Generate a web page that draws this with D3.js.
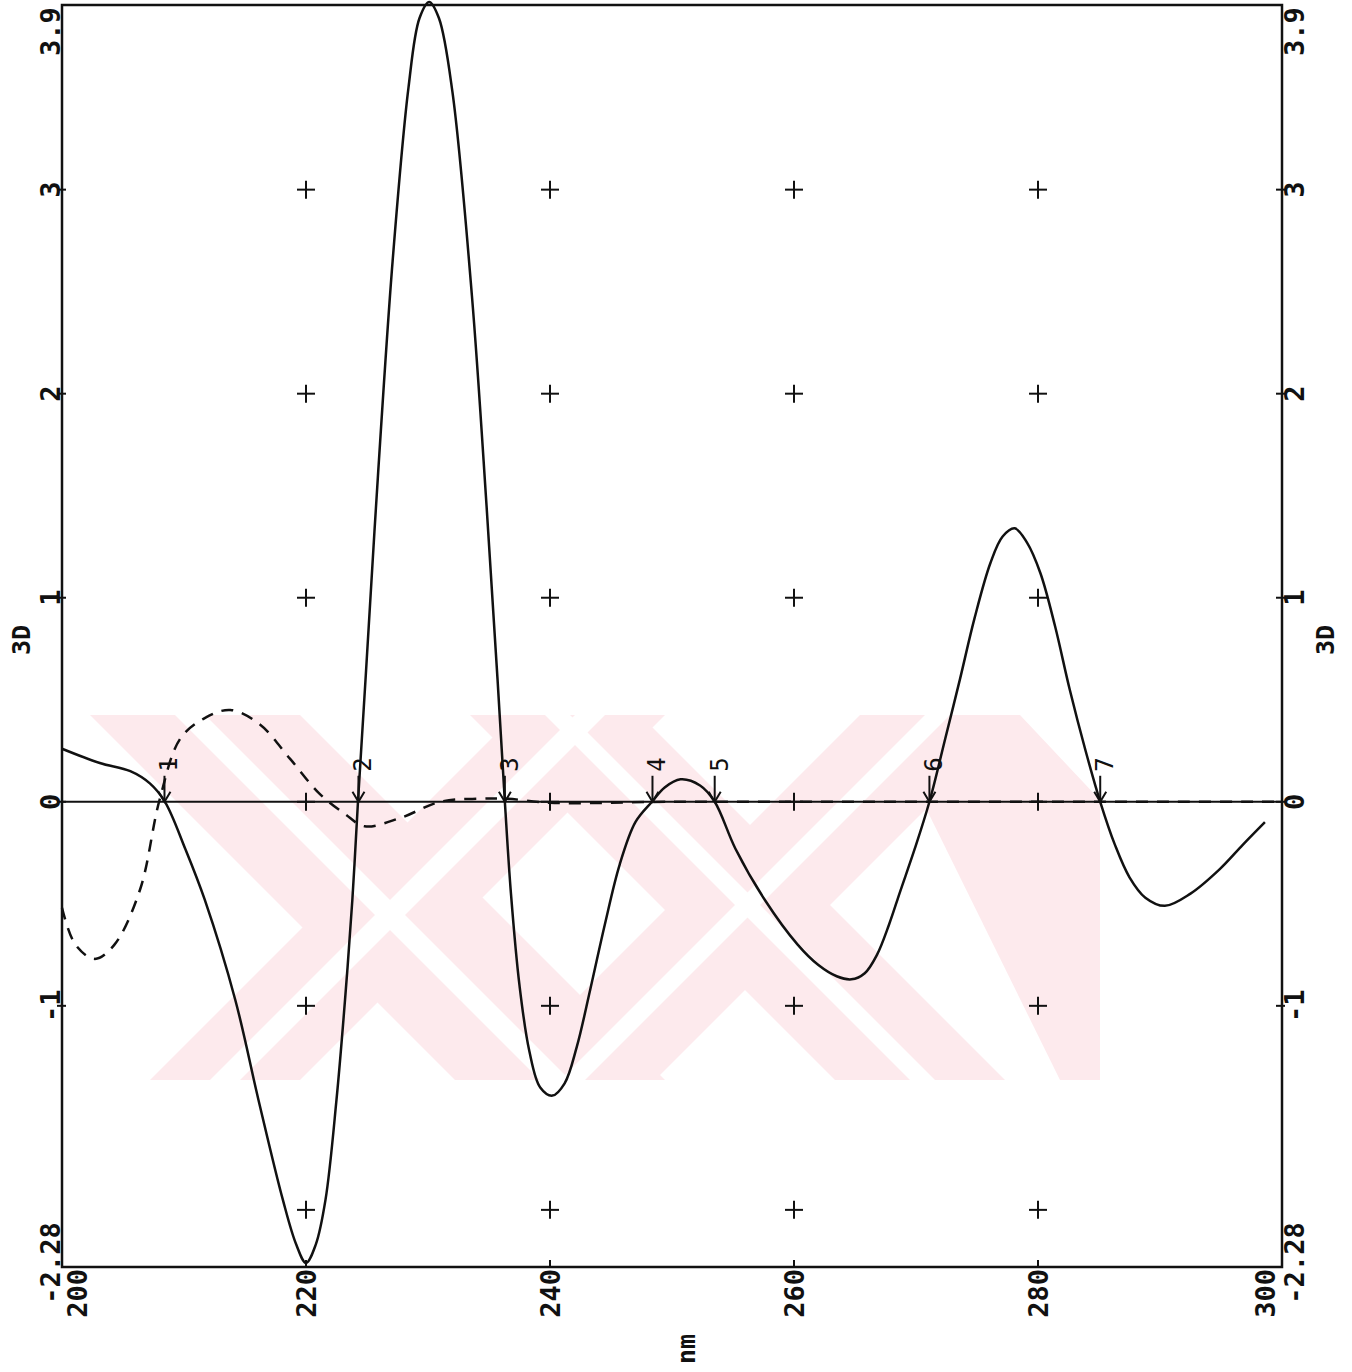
<!DOCTYPE html>
<html>
<head>
<meta charset="utf-8">
<script src="https://cdn.jsdelivr.net/npm/d3@7"></script>
<style>
  body { margin: 0; background: #fff; }
  text { font-family: "DejaVu Sans Mono", "Liberation Mono", monospace; fill: #111; }
</style>
</head>
<body>
<svg id="chart"></svg>
<script>
// spectrum (nm, 3D value)
const solidNm  = [200, 203.1, 205.6, 207.2, 208.44, 210.1, 211.7, 214.2, 216.1, 218.1, 219.2, 220, 220.8, 221.6, 222.5, 223.2, 223.8, 224.26, 224.9, 225.9, 227.1, 228.4, 229.3, 230.1, 230.9, 232, 233.6, 234.8, 235.7, 236.3, 236.8, 237.5, 238.3, 239.2, 240.2, 241.2, 242.2, 243.3, 244.5, 245.7, 247, 248.36, 249.4, 250.7, 252.3, 253.5, 255.2, 257.6, 260.3, 262, 263.5, 264.7, 265.8, 266.8, 267.8, 268.7, 269.9, 271.1, 272.4, 273.6, 274.8, 276.1, 277.1, 278.1, 279.1, 280.2, 281.4, 282.6, 283.9, 285.1, 286.3, 287.5, 288.8, 290.4, 292.5, 294.9, 296.8, 298.6];
const solidVal = [0.26, 0.19, 0.15, 0.09, 0, -0.23, -0.48, -0.97, -1.46, -1.95, -2.17, -2.26, -2.17, -1.95, -1.46, -0.97, -0.48, 0, 0.62, 1.6, 2.65, 3.5, 3.84, 3.92, 3.84, 3.48, 2.48, 1.45, 0.6, 0, -0.45, -0.9, -1.22, -1.4, -1.44, -1.38, -1.2, -0.92, -0.6, -0.31, -0.1, 0, 0.07, 0.11, 0.08, 0, -0.23, -0.48, -0.7, -0.8, -0.855, -0.87, -0.84, -0.75, -0.6, -0.44, -0.23, 0, 0.31, 0.6, 0.9, 1.17, 1.3, 1.34, 1.27, 1.12, 0.86, 0.55, 0.25, 0, -0.21, -0.37, -0.47, -0.51, -0.45, -0.33, -0.21, -0.1];

const dashNm  = [200, 201.1, 202.7, 204.3, 206.4, 208, 209.7, 211.7, 213.8, 216.2, 218.7, 221.1, 223.2, 224.8, 227.7, 231, 234.3, 236.5, 240, 250, 260, 270, 280, 290, 300];
const dashVal = [-0.52, -0.7, -0.77, -0.7, -0.43, 0.01, 0.31, 0.41, 0.45, 0.38, 0.21, 0.04, -0.06, -0.12, -0.08, 0, 0.015, 0.015, -0.005, 0, 0, 0, 0, 0, 0];

// numbered zero crossings
const markerNm     = [208.4, 224.3, 236.3, 248.4, 253.5, 271.1, 285.1];
const markerLabels = ["1", "2", "3", "4", "5", "6", "7"];

const xTicks = [200, 220, 240, 260, 280, 300];
const xTickLabels = ["200", "220", "240", "260", "280", "300"];
const yTicks = [-2.28, -1, 0, 1, 2, 3, 3.9];
const yTickLabels = ["-2.28", "-1", "0", "1", "2", "3", "3.9"];
const gridNm = [220, 240, 260, 280];
const gridVal = [-2, -1, 0, 1, 2, 3];

const W = 1352, H = 1372;
const svg = d3.select('#chart').attr('width', W).attr('height', H);

const x = d3.scaleLinear().domain([200, 300]).range([62, 1282]);
const y = d3.scaleLinear().domain([-2.28, 3.9]).range([1267, 6]);

// faint pink watermark behind everything
const wm = svg.append('g');
const bands = [
  [[90, 715], [300, 715], [665, 1080], [455, 1080]],
  [[515, 715], [665, 715], [300, 1080], [150, 1080]],
  [[470, 715], [640, 715], [1005, 1080], [835, 1080]],
  [[860, 715], [1020, 715], [655, 1080], [495, 1080]],
  [[880, 715], [1020, 715], [1100, 800], [1100, 1080], [1060, 1080]]
];
wm.selectAll('polygon').data(bands).enter().append('polygon')
  .attr('points', d => d.map(p => p.join(',')).join(' '))
  .style('fill', '#fdeaed');
// white inner stripes
const stripes = [
  [[175, 715], [205, 715], [570, 1080], [540, 1080]],
  [[575, 715], [605, 715], [240, 1080], [210, 1080]],
  [[545, 715], [570, 715], [935, 1080], [910, 1080]],
  [[925, 715], [950, 715], [585, 1080], [560, 1080]]
];
wm.selectAll('polygon.s').data(stripes).enter().append('polygon')
  .attr('class', 's')
  .attr('points', d => d.map(p => p.join(',')).join(' '))
  .style('fill', '#fff');

// grid crosses
const crosses = [];
gridNm.forEach(n => gridVal.forEach(v => crosses.push([n, v])));
const cross = svg.append('g').selectAll('g').data(crosses).enter().append('g')
  .attr('transform', d => `translate(${x(d[0])},${y(d[1])})`);
cross.append('line').attr('x1', -9).attr('x2', 9).attr('stroke', '#111').attr('stroke-width', 2);
cross.append('line').attr('y1', -9).attr('y2', 9).attr('stroke', '#111').attr('stroke-width', 2);

// zero line
svg.append('line')
  .attr('x1', x(200)).attr('x2', x(300)).attr('y1', y(0)).attr('y2', y(0))
  .attr('stroke', '#111').attr('stroke-width', 2);

const line = d3.line().x(d => x(d[0])).y(d => y(d[1])).curve(d3.curveCatmullRom.alpha(0.5));

svg.append('path')
  .datum(dashNm.map((n, i) => [n, dashVal[i]]))
  .attr('d', line)
  .attr('fill', 'none').attr('stroke', '#111').attr('stroke-width', 2.5)
  .attr('stroke-dasharray', '12 9');

svg.append('path')
  .datum(solidNm.map((n, i) => [n, solidVal[i]]))
  .attr('d', line)
  .attr('fill', 'none').attr('stroke', '#111').attr('stroke-width', 2.5);

// arrows at crossings
const mk = svg.append('g').selectAll('g').data(markerNm).enter().append('g')
  .attr('transform', d => `translate(${x(d)},${y(0)})`);
mk.append('line').attr('y1', -26).attr('y2', 0).attr('stroke', '#111').attr('stroke-width', 2);
mk.append('path').attr('d', 'M-6,-10 L0,0 L6,-10').attr('fill', 'none').attr('stroke', '#111').attr('stroke-width', 2);
mk.append('text')
  .attr('transform', 'translate(5,-30) rotate(-90)')
  .attr('dominant-baseline', 'central')
  .style('font-size', '24px')
  .text((d, i) => markerLabels[i]);

// frame
svg.append('rect')
  .attr('x', x(200)).attr('y', 5).attr('width', x(300) - x(200)).attr('height', y(-2.28) - 5)
  .attr('fill', 'none').attr('stroke', '#111').attr('stroke-width', 2.5);

// axis ticks
yTicks.slice(1, -1).forEach(v => {
  svg.append('line').attr('x1', x(200) - 5).attr('x2', x(200) + 4).attr('y1', y(v)).attr('y2', y(v)).attr('stroke', '#111').attr('stroke-width', 2);
  svg.append('line').attr('x1', x(300) - 6).attr('x2', x(300) + 3).attr('y1', y(v)).attr('y2', y(v)).attr('stroke', '#111').attr('stroke-width', 2);
});
xTicks.slice(1, -1).forEach(n => {
  svg.append('line').attr('x1', x(n)).attr('x2', x(n)).attr('y1', y(-2.28) - 7).attr('y2', y(-2.28)).attr('stroke', '#111').attr('stroke-width', 2);
});

// rotated labels
function rlabel(px, py, txt, anchor, size) {
  svg.append('text')
    .attr('transform', `translate(${px},${py}) rotate(-90)`)
    .attr('text-anchor', anchor)
    .attr('dominant-baseline', 'central')
    .style('font-size', (size || 27) + 'px')
    .style('font-weight', 'bold')
    .text(txt);
}

yTicks.forEach((v, i) => {
  let py = y(v), anchor = 'middle';
  if (v === 3.9) { py = 56; anchor = 'start'; }
  if (v === -2.28) { py = 1263; }
  rlabel(50, py, yTickLabels[i], anchor);
  rlabel(1294, py, yTickLabels[i], anchor);
});

xTicks.forEach((n, i) => {
  let px = x(n);
  if (n === 200) px = 77;
  if (n === 300) px = 1265;
  rlabel(px, 1269, xTickLabels[i], 'end');
});

rlabel(21, 640, '3D', 'middle', 25);
rlabel(1325, 640, '3D', 'middle', 25);
rlabel(686, 1349, 'nm', 'middle', 25);
</script>
</body>
</html>
